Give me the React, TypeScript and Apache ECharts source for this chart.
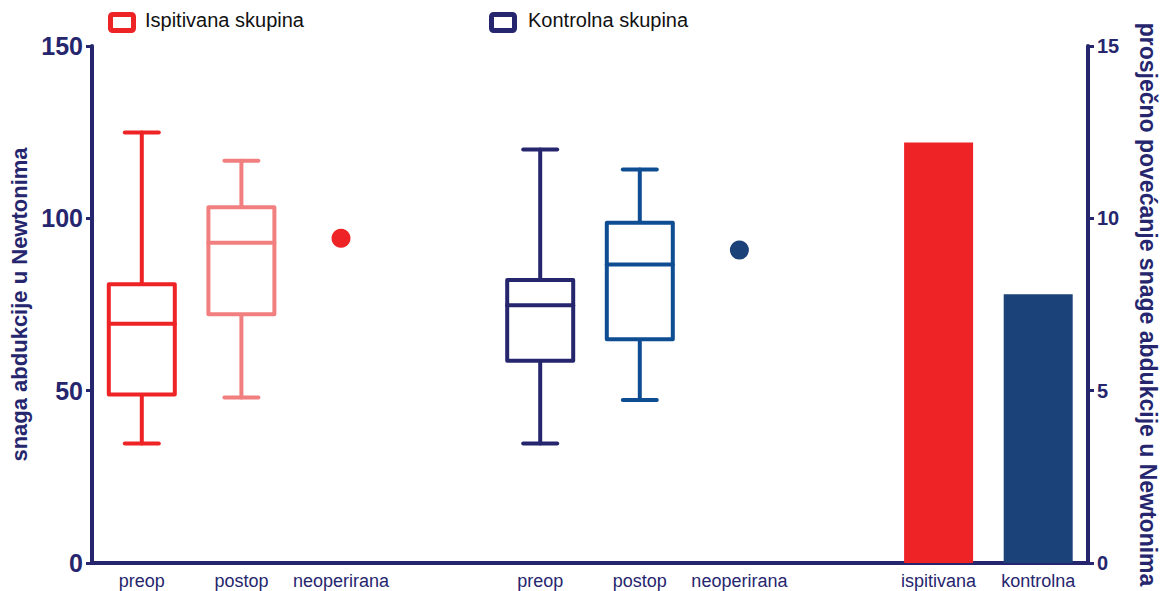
import React, { useEffect, useRef } from "react";
import * as echarts from "echarts";

const categories = ["preop", "postop", "neoperirana", "", "preop", "postop", "neoperirana", "", "ispitivana", "kontrolna"];
// [category index, min, Q1, median, Q3, max]
const boxData = [
  [0, 34.7, 48.9, 69.4, 80.9, 124.9],
  [1, 48.0, 72.2, 92.9, 103.2, 116.7],
  [4, 34.7, 58.7, 74.8, 82.1, 120.0],
  [5, 47.3, 64.9, 86.6, 98.7, 114.2],
];
const boxColors = ["#ee2326", "#f27f7f", "#26266e", "#0f4d92"];
const pointData = [
  [2, 94.2],
  [6, 90.8],
];
const pointColors = ["#ee2326", "#1a4178"];
const barValues = ["-", "-", "-", "-", "-", "-", "-", "-", 12.2, 7.8];
const barColors = ["#ee2326", "#1b4279"];
const legendNames = ["Ispitivana skupina", "Kontrolna skupina"];
const legendColors = ["#ee2326", "#26266e"];

const NAVY = "#26266e";
const FONT = "Liberation Sans, Arial, sans-serif";

export default function App() {
  const ref = useRef<HTMLDivElement>(null);
  useEffect(() => {
    const chart = echarts.init(ref.current!, null, { renderer: "svg" });
    const option: any = {
      animation: false,
      textStyle: { fontFamily: FONT },
      grid: { left: 92, top: 46, width: 996, height: 517, containLabel: false, outerBoundsMode: "none" },
      xAxis: {
        type: "category",
        data: categories,
        axisLine: { lineStyle: { color: NAVY, width: 4 } },
        axisTick: { show: false },
        axisLabel: { interval: 0, color: NAVY, fontSize: 18, margin: 9, fontFamily: FONT },
        splitLine: { show: false },
      },
      yAxis: [
        {
          type: "value",
          min: 0,
          max: 150,
          interval: 50,
          name: "snaga abdukcije u Newtonima",
          nameLocation: "middle",
          nameRotate: 90,
          nameGap: 62,
          nameTextStyle: { color: NAVY, fontSize: 22, fontWeight: "bold", fontFamily: FONT },
          axisLine: { show: true, lineStyle: { color: NAVY, width: 4 } },
          axisTick: { show: true, length: 6, lineStyle: { color: NAVY, width: 3 } },
          axisLabel: { color: NAVY, fontSize: 25, fontWeight: "bold", margin: 9, fontFamily: FONT },
          splitLine: { show: false },
        },
        {
          type: "value",
          min: 0,
          max: 15,
          interval: 5,
          position: "right",
          name: "prosječno povećanje snage abdukcije u Newtonima",
          nameLocation: "middle",
          nameRotate: -90,
          nameGap: 48,
          nameTextStyle: { color: NAVY, fontSize: 23, fontWeight: "bold", fontFamily: FONT },
          axisLine: { show: true, lineStyle: { color: NAVY, width: 4 } },
          axisTick: { show: true, length: 6, lineStyle: { color: NAVY, width: 3 } },
          axisLabel: { color: NAVY, fontSize: 20, fontWeight: "bold", margin: 9, fontFamily: FONT },
          splitLine: { show: false },
        },
      ],
      series: [
        {
          type: "bar",
          yAxisIndex: 1,
          barWidth: 69,
          data: barValues.map((v, i) =>
            v === "-" ? "-" : { value: v, itemStyle: { color: barColors[i - 8] } }
          ),
        },
        {
          type: "custom",
          encode: { x: 0, y: [1, 2, 3, 4, 5] },
          data: boxData,
          renderItem: (params: any, api: any) => {
            const x = api.value(0);
            const c = api.coord([x, api.value(1)]);
            const cx = c[0];
            const yMin = c[1];
            const yQ1 = api.coord([x, api.value(2)])[1];
            const yMed = api.coord([x, api.value(3)])[1];
            const yQ3 = api.coord([x, api.value(4)])[1];
            const yMax = api.coord([x, api.value(5)])[1];
            const bw = 66;
            const cap = 17;
            const color = boxColors[params.dataIndex];
            const style = { stroke: color, lineWidth: 4, fill: null, lineCap: "round" };
            return {
              type: "group",
              children: [
                { type: "line", shape: { x1: cx, y1: yQ3, x2: cx, y2: yMax }, style },
                { type: "line", shape: { x1: cx, y1: yQ1, x2: cx, y2: yMin }, style },
                { type: "line", shape: { x1: cx - cap, y1: yMax, x2: cx + cap, y2: yMax }, style },
                { type: "line", shape: { x1: cx - cap, y1: yMin, x2: cx + cap, y2: yMin }, style },
                {
                  type: "rect",
                  shape: { x: cx - bw / 2, y: yQ3, width: bw, height: yQ1 - yQ3 },
                  style: { stroke: color, lineWidth: 4, fill: "#ffffff", lineJoin: "round" },
                },
                { type: "line", shape: { x1: cx - bw / 2, y1: yMed, x2: cx + bw / 2, y2: yMed }, style },
              ],
            };
          },
        },
        {
          type: "scatter",
          symbol: "circle",
          symbolSize: 19,
          data: pointData.map((p, i) => ({ value: p, itemStyle: { color: pointColors[i], opacity: 1 } })),
        },
      ],
      graphic: [
        {
          type: "rect",
          left: 108,
          top: 12,
          shape: { width: 23, height: 16, r: 2 },
          style: { fill: "#ffffff", stroke: legendColors[0], lineWidth: 5 },
        },
        {
          type: "text",
          left: 145,
          top: 10,
          style: { text: legendNames[0], fill: "#111111", fontSize: 20, fontFamily: FONT },
        },
        {
          type: "rect",
          left: 489,
          top: 12,
          shape: { width: 23, height: 16, r: 2 },
          style: { fill: "#ffffff", stroke: legendColors[1], lineWidth: 5 },
        },
        {
          type: "text",
          left: 528,
          top: 10,
          style: { text: legendNames[1], fill: "#111111", fontSize: 20, fontFamily: FONT },
        },
      ],
    };
    chart.setOption(option);
    return () => chart.dispose();
  }, []);
  return <div ref={ref} style={{ width: 1165, height: 591, position: "absolute", left: 0, top: 0 }} />;
}
